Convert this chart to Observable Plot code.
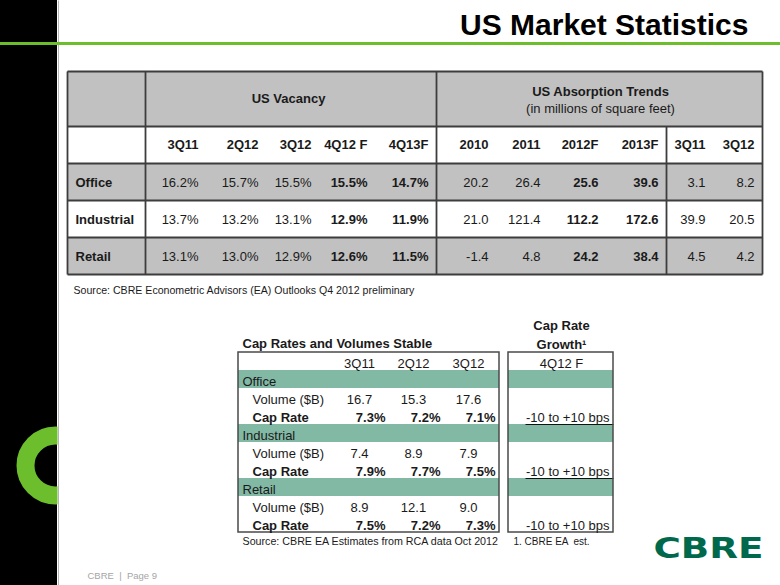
<!DOCTYPE html>
<html><head><meta charset="utf-8">
<script src="https://cdn.jsdelivr.net/npm/d3@7"></script>
<script src="https://cdn.jsdelivr.net/npm/@observablehq/plot@0.6"></script>
<style>html,body{margin:0;padding:0;background:#fff;overflow:hidden}#chart{width:780px;height:585px}</style>
</head><body><div id="chart"></div>
<script>
// ---------- DATA ----------
const slideTitle = "US Market Statistics";
const sectors = ["Office", "Industrial", "Retail"];

const vacancyTitle = "US Vacancy";
const vacancyPeriods = ["3Q11", "2Q12", "3Q12", "4Q12 F", "4Q13F"];
const vacancyForecast = [false, false, false, true, true];
const officeVacancy = [16.2, 15.7, 15.5, 15.5, 14.7];
const industrialVacancy = [13.7, 13.2, 13.1, 12.9, 11.9];
const retailVacancy = [13.1, 13.0, 12.9, 12.6, 11.5];

const absorptionTitle = "US Absorption Trends";
const absorptionSubtitle = "(in millions of square feet)";
const absorptionPeriods = ["2010", "2011", "2012F", "2013F", "3Q11", "3Q12"];
const absorptionForecast = [false, false, true, true, false, false];
const officeAbsorption = [20.2, 26.4, 25.6, 39.6, 3.1, 8.2];
const industrialAbsorption = [21.0, 121.4, 112.2, 172.6, 39.9, 20.5];
const retailAbsorption = [-1.4, 4.8, 24.2, 38.4, 4.5, 4.2];

const topSource = "Source: CBRE Econometric Advisors (EA) Outlooks Q4 2012 preliminary";

const capTitle = "Cap Rates and Volumes Stable";
const capPeriods = ["3Q11", "2Q12", "3Q12"];
const capRowLabels = ["Volume ($B)", "Cap Rate"];
const officeVolume = [16.7, 15.3, 17.6];
const officeCapRate = [7.3, 7.2, 7.1];
const industrialVolume = [7.4, 8.9, 7.9];
const industrialCapRate = [7.9, 7.7, 7.5];
const retailVolume = [8.9, 12.1, 9.0];
const retailCapRate = [7.5, 7.2, 7.3];
const capSource = "Source: CBRE EA Estimates from RCA data Oct 2012";

const growthTitle = ["Cap Rate", "Growth\u00b9"];
const growthPeriod = "4Q12 F";
const capRateGrowth = ["-10 to +10 bps", "-10 to +10 bps", "-10 to +10 bps"];
const growthNote = "1. CBRE EA  est.";

const footerText = "CBRE  |  Page 9";
const logoText = "CBRE";

// ---------- LAYOUT / STYLE ----------
const W = 780, H = 585;
const C = {
  black: "#000", green: "#6cbe2d", gray: "#c1c1c1", border: "#3d3d3d",
  teal: "#82b9a5", text: "#1a1a1a", logo: "#00694b", footer: "#a5a5a5"
};
const T = { // top table
  left: 67, right: 762, edges: [71, 126, 163, 200, 237, 274],
  labelX: 75, labelRight: 145, divider: 436, subDivider: 666,
  vacCols: [198, 258, 311, 367, 428], absCols: [488, 540, 598, 658, 705, 754],
  vacCenter: 288, absCenter: 600, fs: 13
};
const B = { // bottom tables
  left: 238, right: 499, top: 352, rowH: 18, rows: 10,
  labelX: 242, indentX: 252, volCenters: [359, 413, 468], capRight: [385, 440, 495],
  gLeft: 508, gRight: 613, gCenter: 561, gTextRight: 609, gRuleLeft: 525, fs: 13
};
const rowCenter = r => B.top + B.rowH * r + 11;

const rects = [], lines = [], texts = [];
const addText = (x, y, text, o = {}) => texts.push({
  x, y, text, anchor: o.anchor || "start", bold: !!o.bold, size: o.size || 13, fill: o.fill || C.text
});

// decorations
rects.push({x1: 0, x2: 57, y1: 0, y2: H, fill: C.black});

// top table backgrounds
for (let i = 0; i < 5; i++) rects.push({x1: T.left, x2: T.right, y1: T.edges[i], y2: T.edges[i + 1], fill: i % 2 === 0 ? C.gray : "#ffffff"});
// top table lines
T.edges.forEach(y => lines.push({x1: T.left, x2: T.right, y1: y, y2: y}));
[T.left, T.labelRight, T.divider, T.right].forEach(x => lines.push({x1: x, x2: x, y1: T.edges[0], y2: T.edges[5]}));
lines.push({x1: T.subDivider, x2: T.subDivider, y1: T.edges[1], y2: T.edges[5]});

const mid = i => (T.edges[i] + T.edges[i + 1]) / 2;
addText(T.vacCenter, mid(0), vacancyTitle, {anchor: "middle", bold: true});
addText(T.absCenter, 91, absorptionTitle, {anchor: "middle", bold: true});
addText(T.absCenter, 108, absorptionSubtitle, {anchor: "middle"});
vacancyPeriods.forEach((p, j) => addText(T.vacCols[j], mid(1), p, {anchor: "end", bold: true}));
absorptionPeriods.forEach((p, j) => addText(T.absCols[j], mid(1), p, {anchor: "end", bold: true}));
const vacSeries = [officeVacancy, industrialVacancy, retailVacancy];
const absSeries = [officeAbsorption, industrialAbsorption, retailAbsorption];
sectors.forEach((s, i) => {
  const y = mid(i + 2) + 0.5;
  addText(T.labelX, y, s, {bold: true});
  vacSeries[i].forEach((v, j) => addText(T.vacCols[j], y, d3.format(".1f")(v) + "%", {anchor: "end", bold: vacancyForecast[j]}));
  absSeries[i].forEach((v, j) => addText(T.absCols[j], y, d3.format(".1f")(v).replace("\u2212", "-"), {anchor: "end", bold: absorptionForecast[j]}));
});
addText(T.labelX - 2, 290, topSource, {size: 10.6});

// bottom-left table
const volSeries = [officeVolume, industrialVolume, retailVolume];
const capSeries = [officeCapRate, industrialCapRate, retailCapRate];
addText(B.labelX, 343, capTitle, {bold: true});
capPeriods.forEach((p, j) => addText(B.volCenters[j], rowCenter(0), p, {anchor: "middle"}));
sectors.forEach((s, i) => {
  const band = 1 + 3 * i;
  rects.push({x1: B.left, x2: B.right, y1: B.top + B.rowH * band, y2: B.top + B.rowH * (band + 1), fill: C.teal});
  rects.push({x1: B.gLeft, x2: B.gRight, y1: B.top + B.rowH * band, y2: B.top + B.rowH * (band + 1), fill: C.teal});
  addText(B.labelX, rowCenter(band), s);
  addText(B.indentX, rowCenter(band + 1), capRowLabels[0]);
  addText(B.indentX, rowCenter(band + 2), capRowLabels[1], {bold: true});
  volSeries[i].forEach((v, j) => addText(B.volCenters[j], rowCenter(band + 1), d3.format(".1f")(v), {anchor: "middle"}));
  capSeries[i].forEach((v, j) => addText(B.capRight[j], rowCenter(band + 2), d3.format(".1f")(v) + "%", {anchor: "end", bold: true}));
  addText(B.gTextRight, rowCenter(band + 2), capRateGrowth[i], {anchor: "end"});
  if (i > 0) lines.push({x1: B.gRuleLeft, x2: B.gRight, y1: B.top + B.rowH * band, y2: B.top + B.rowH * band, thin: true});
});
const bBottom = B.top + B.rowH * B.rows;
const boxes = [
  {x1: B.left, x2: B.right, y1: B.top, y2: bBottom},
  {x1: B.gLeft, x2: B.gRight, y1: B.top, y2: bBottom}
];
addText(B.gCenter, 325, growthTitle[0], {anchor: "middle", bold: true});
addText(B.gCenter, 344, growthTitle[1], {anchor: "middle", bold: true});
addText(B.gCenter, rowCenter(0), growthPeriod, {anchor: "middle"});
addText(B.labelX, 541, capSource, {size: 10.7});
addText(B.gLeft + 5, 541, growthNote, {size: 10});

// title and footer
addText(748, 25, slideTitle, {anchor: "end", bold: true, size: 30, fill: "#000"});
addText(87, 575, footerText, {size: 9.5, fill: C.footer});

// text marks grouped by anchor/weight
const textMarks = [];
for (const anchor of ["start", "middle", "end"]) for (const bold of [false, true]) {
  const data = texts.filter(d => d.anchor === anchor && d.bold === bold);
  if (data.length) textMarks.push(Plot.text(data, {
    x: "x", y: "y", text: "text", textAnchor: anchor, fontWeight: bold ? "bold" : "normal",
    fontSize: d => d.size, fill: d => d.fill, fontFamily: "Liberation Sans, Arial, sans-serif"
  }));
}

const chart = Plot.plot({
  width: W, height: H, margin: 0,
  x: {domain: [0, W], range: [0, W], axis: null},
  y: {domain: [0, H], range: [0, H], axis: null},
  color: {type: "identity"},
  style: {background: "#fff", fontFamily: "Liberation Sans, Arial, sans-serif", overflow: "hidden"},
  marks: [
    Plot.rect(rects, {x1: "x1", x2: "x2", y1: "y1", y2: "y2", fill: d => d.fill}),
    // green ring logo fragment
    Plot.dot([{x: 55, y: 465}], {x: "x", y: "y", r: 30, stroke: C.green, strokeWidth: 18, fill: "none"}),
    Plot.rect([{x1: 57.5, x2: 110, y1: 420, y2: 512}], {x1: "x1", x2: "x2", y1: "y1", y2: "y2", fill: "#fff"}),
    Plot.link([{x: 58}], {x1: "x", x2: "x", y1: () => 0, y2: () => H, stroke: "#b5b5b5", strokeWidth: 1}),
    // green header rule
    Plot.rect([{y: 42}], {x1: () => 0, x2: () => W, y1: "y", y2: d => d.y + 3, fill: C.green}),
    Plot.link(lines.filter(d => !d.thin), {x1: "x1", x2: "x2", y1: "y1", y2: "y2", stroke: C.border, strokeWidth: 1.8}),
    Plot.link(lines.filter(d => d.thin), {x1: "x1", x2: "x2", y1: "y1", y2: "y2", stroke: "#111", strokeWidth: 1}),
    Plot.rect(boxes, {x1: "x1", x2: "x2", y1: "y1", y2: "y2", fill: "none", stroke: "#4a4a4a", strokeWidth: 1.5}),
    ...textMarks,
    Plot.text([logoText], {x: () => 708, y: () => 549, text: d => d, textAnchor: "middle", fontWeight: "bold",
      fontSize: 28, fill: C.logo, fontFamily: "DejaVu Sans, sans-serif"})
  ]
});
document.getElementById("chart").appendChild(chart);
d3.select(chart).selectAll("text").filter(function() { return this.textContent === logoText; })
  .attr("textLength", 110).attr("lengthAdjust", "spacingAndGlyphs");
</script>
</body></html>
